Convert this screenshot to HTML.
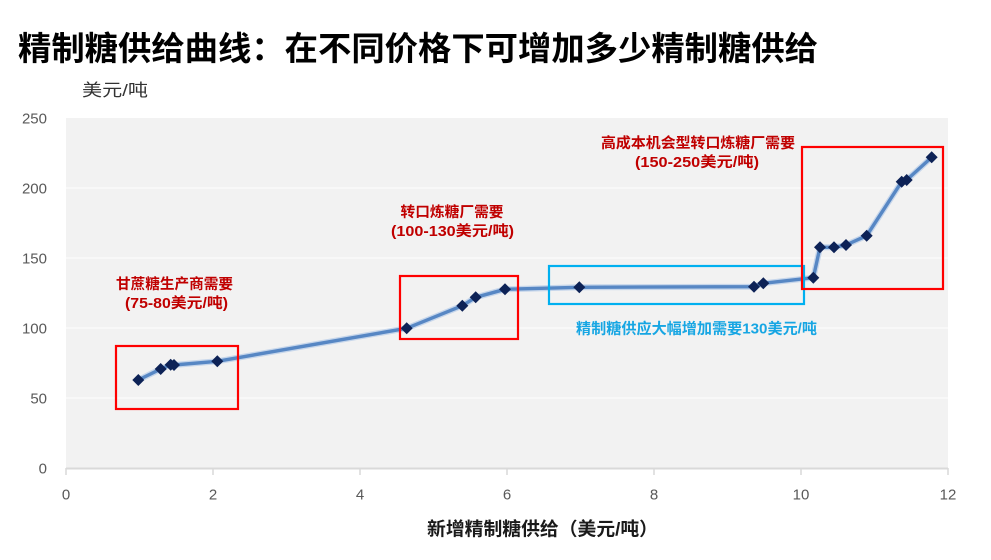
<!DOCTYPE html>
<html>
<head>
<meta charset="utf-8">
<style>
html,body{margin:0;padding:0;background:#fff;}
svg{display:block;}
text{font-family:"Liberation Sans","Noto Sans CJK SC",sans-serif;}
</style>
</head>
<body>
<svg width="991" height="560" viewBox="0 0 991 560" xmlns="http://www.w3.org/2000/svg">
  <rect x="0" y="0" width="991" height="560" fill="#ffffff"/>
  <!-- Title -->
  <text x="18" y="60" font-size="33" font-weight="bold" fill="#000" textLength="800" lengthAdjust="spacingAndGlyphs">精制糖供给曲线：在不同价格下可增加多少精制糖供给</text>
  <!-- y unit -->
  <text x="82" y="96" font-size="17" fill="#333" textLength="66" lengthAdjust="spacingAndGlyphs">美元/吨</text>

  <!-- plot bg -->
  <rect x="66" y="118" width="882" height="350" fill="#f2f2f2"/>
  <!-- gridlines -->
  <g stroke="#fbfbfb" stroke-width="1.2">
    <line x1="66" y1="188" x2="948" y2="188"/>
    <line x1="66" y1="258" x2="948" y2="258"/>
    <line x1="66" y1="328" x2="948" y2="328"/>
    <line x1="66" y1="398" x2="948" y2="398"/>
  </g>
  <!-- x axis -->
  <line x1="66" y1="468.5" x2="948" y2="468.5" stroke="#d9d9d9" stroke-width="2"/>
  <g stroke="#d9d9d9" stroke-width="1.5">
    <line x1="66" y1="468" x2="66" y2="475"/>
    <line x1="213" y1="468" x2="213" y2="475"/>
    <line x1="360" y1="468" x2="360" y2="475"/>
    <line x1="507" y1="468" x2="507" y2="475"/>
    <line x1="654" y1="468" x2="654" y2="475"/>
    <line x1="801" y1="468" x2="801" y2="475"/>
    <line x1="948" y1="468" x2="948" y2="475"/>
  </g>

  <!-- y tick labels -->
  <g font-size="15" fill="#595959" text-anchor="end">
    <text x="47" y="123.4">250</text>
    <text x="47" y="193.4">200</text>
    <text x="47" y="263.4">150</text>
    <text x="47" y="333.4">100</text>
    <text x="47" y="403.4">50</text>
    <text x="47" y="473.4">0</text>
  </g>
  <!-- x tick labels -->
  <g font-size="15" fill="#595959" text-anchor="middle">
    <text x="66" y="499.5">0</text>
    <text x="213" y="499.5">2</text>
    <text x="360" y="499.5">4</text>
    <text x="507" y="499.5">6</text>
    <text x="654" y="499.5">8</text>
    <text x="801" y="499.5">10</text>
    <text x="948" y="499.5">12</text>
  </g>
  <!-- x title -->
  <text x="427" y="535.5" font-size="18.5" font-weight="bold" fill="#1a1a1a" textLength="231" lengthAdjust="spacingAndGlyphs">新增精制糖供给（美元/吨）</text>

  <!-- series line -->
  <polyline fill="none" stroke="#a9c3e6" stroke-width="6" stroke-linejoin="round" stroke-linecap="round" opacity="0.6"
    points="138.3,380 160.7,369 170.7,364.7 174,365 217.3,361.3 406.7,328.3 462.3,305.7 475.7,297.3 505,289.3 579.3,287.3 754,286.7 763.3,283.3 813.3,277.7 820,247.3 834,247.3 846,245 866.7,235.7 901.7,181.7 906.7,180 931.7,157.3"/>
  <polyline fill="none" stroke="#5787c4" stroke-width="3.4" stroke-linejoin="round" stroke-linecap="round"
    points="138.3,380 160.7,369 170.7,364.7 174,365 217.3,361.3 406.7,328.3 462.3,305.7 475.7,297.3 505,289.3 579.3,287.3 754,286.7 763.3,283.3 813.3,277.7 820,247.3 834,247.3 846,245 866.7,235.7 901.7,181.7 906.7,180 931.7,157.3"/>
  <!-- markers -->
  <g fill="#0d2256">
    <path d="M138.3,374 l6,6 l-6,6 l-6,-6z"/>
    <path d="M160.7,363 l6,6 l-6,6 l-6,-6z"/>
    <path d="M170.7,358.7 l6,6 l-6,6 l-6,-6z"/>
    <path d="M174,359 l6,6 l-6,6 l-6,-6z"/>
    <path d="M217.3,355.3 l6,6 l-6,6 l-6,-6z"/>
    <path d="M406.7,322.3 l6,6 l-6,6 l-6,-6z"/>
    <path d="M462.3,299.7 l6,6 l-6,6 l-6,-6z"/>
    <path d="M475.7,291.3 l6,6 l-6,6 l-6,-6z"/>
    <path d="M505,283.3 l6,6 l-6,6 l-6,-6z"/>
    <path d="M579.3,281.3 l6,6 l-6,6 l-6,-6z"/>
    <path d="M754,280.7 l6,6 l-6,6 l-6,-6z"/>
    <path d="M763.3,277.3 l6,6 l-6,6 l-6,-6z"/>
    <path d="M813.3,271.7 l6,6 l-6,6 l-6,-6z"/>
    <path d="M820,241.3 l6,6 l-6,6 l-6,-6z"/>
    <path d="M834,241.3 l6,6 l-6,6 l-6,-6z"/>
    <path d="M846,239 l6,6 l-6,6 l-6,-6z"/>
    <path d="M866.7,229.7 l6,6 l-6,6 l-6,-6z"/>
    <path d="M901.7,175.7 l6,6 l-6,6 l-6,-6z"/>
    <path d="M906.7,174 l6,6 l-6,6 l-6,-6z"/>
    <path d="M931.7,151.3 l6,6 l-6,6 l-6,-6z"/>
  </g>

  <!-- boxes -->
  <g fill="none" stroke-width="2.2">
    <rect x="116" y="346" width="122" height="63" stroke="#ff0000"/>
    <rect x="400" y="276" width="118" height="63" stroke="#ff0000"/>
    <rect x="549" y="266" width="255" height="38" stroke="#00b0f0"/>
    <rect x="802" y="147" width="141" height="142" stroke="#ff0000"/>
  </g>

  <!-- annotations -->
  <g font-size="14.5" font-weight="bold" fill="#c00000" text-anchor="middle">
    <text x="174.5" y="289" textLength="117" lengthAdjust="spacingAndGlyphs">甘蔗糖生产商需要</text>
    <text x="176.5" y="308" textLength="103" lengthAdjust="spacingAndGlyphs">(75-80美元/吨)</text>
    <text x="452" y="217" textLength="103" lengthAdjust="spacingAndGlyphs">转口炼糖厂需要</text>
    <text x="452.5" y="236" textLength="123" lengthAdjust="spacingAndGlyphs">(100-130美元/吨)</text>
    <text x="698" y="148" textLength="194" lengthAdjust="spacingAndGlyphs">高成本机会型转口炼糖厂需要</text>
    <text x="697" y="167" textLength="124" lengthAdjust="spacingAndGlyphs">(150-250美元/吨)</text>
  </g>
  <text x="576" y="333.5" font-size="15" font-weight="bold" fill="#17a6e3" textLength="241" lengthAdjust="spacingAndGlyphs">精制糖供应大幅增加需要130美元/吨</text>
</svg>
</body>
</html>
